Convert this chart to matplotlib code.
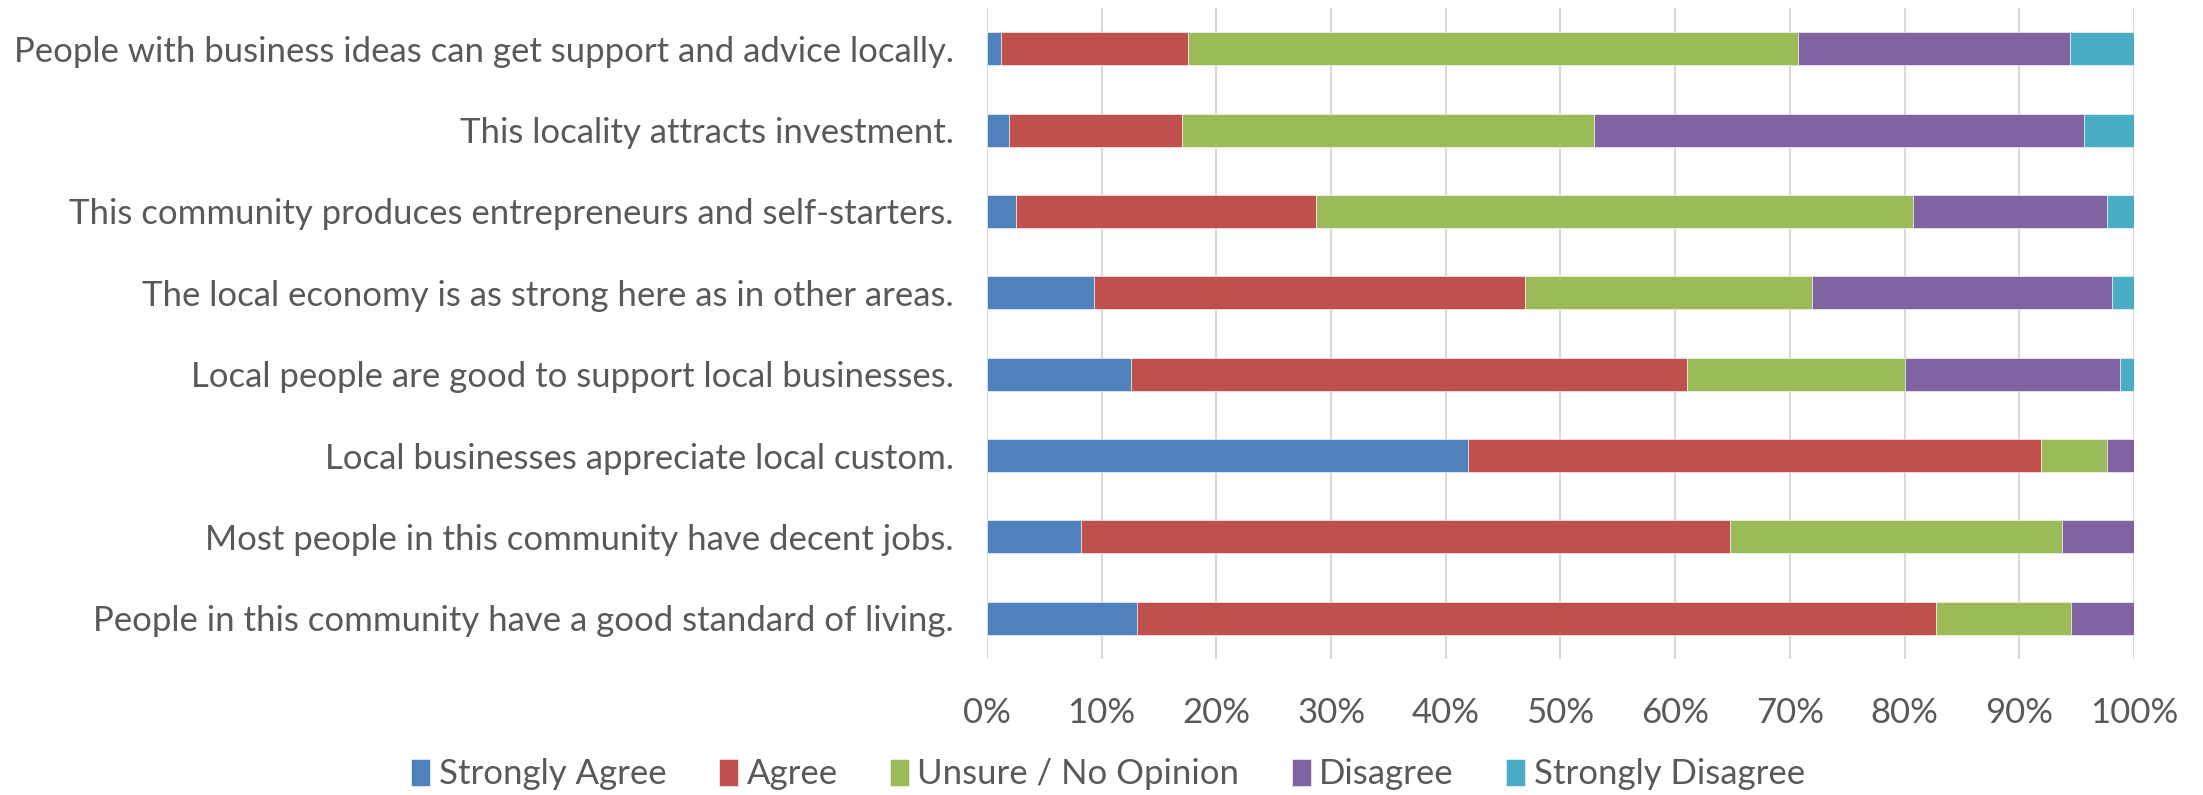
import numpy as np
import matplotlib
matplotlib.use("Agg")
import matplotlib.pyplot as plt

plt.rcParams['font.family'] = ['Lato', 'DejaVu Sans']

categories = [
    "People with business ideas can get support and advice locally.",
    "This locality attracts investment.",
    "This community produces entrepreneurs and self-starters.",
    "The local economy is as strong here as in other areas.",
    "Local people are good to support local businesses.",
    "Local businesses appreciate local custom.",
    "Most people in this community have decent jobs.",
    "People in this community have a good standard of living.",
]

series_names = ["Strongly Agree", "Agree", "Unsure / No Opinion", "Disagree", "Strongly Disagree"]

# percentages, one list per series, same order as categories
strongly_agree = [1.2, 1.9, 2.5, 9.3, 12.6, 41.9, 8.2, 13.1]
agree = [16.3, 15.1, 26.2, 37.6, 48.4, 50.0, 56.6, 69.6]
unsure = [53.2, 35.9, 52.0, 25.0, 19.0, 5.7, 28.9, 11.8]
disagree = [23.7, 42.7, 16.9, 26.2, 18.8, 2.4, 6.3, 5.5]
strongly_disagree = [5.6, 4.4, 2.4, 1.9, 1.2, 0.0, 0.0, 0.0]

colors = ["#4F81BD", "#C0504D", "#9BBB59", "#8064A2", "#4BACC6"]
text_color = "#595959"

fig = plt.figure(figsize=(22.03, 7.95), dpi=100)
ax = fig.add_axes([0.448, 0.171, 0.5207, 0.819])

y = np.arange(len(categories))
left = np.zeros(len(categories))
for name, vals, c in zip(series_names,
                         [strongly_agree, agree, unsure, disagree, strongly_disagree],
                         colors):
    vals = np.array(vals)
    ax.barh(y, vals, left=left, height=0.405, color=c, label=name,
            edgecolor="white", linewidth=0.4, zorder=3)
    left += vals

ax.set_xlim(0, 100)
ax.set_ylim(len(categories) - 0.5, -0.5)
ax.set_xticks(np.arange(0, 101, 10))
ax.set_xticklabels([f"{v}%" for v in range(0, 101, 10)])
ax.set_yticks(y)
ax.set_yticklabels(categories)
ax.grid(axis="x", color="#D9D9D9", linewidth=1.5, zorder=0)
for s in ax.spines.values():
    s.set_visible(False)
ax.tick_params(axis="both", length=0, labelsize=25, labelcolor=text_color)
ax.tick_params(axis="x", pad=27)
ax.tick_params(axis="y", pad=24)

fig.legend(loc="center", bbox_to_anchor=(0.503, 0.026), ncol=5, frameon=False,
           fontsize=25, labelcolor=text_color, handlelength=0.55, handleheight=0.8,
           handletextpad=0.25, columnspacing=1.5)

fig.savefig("out.png", dpi=100)
